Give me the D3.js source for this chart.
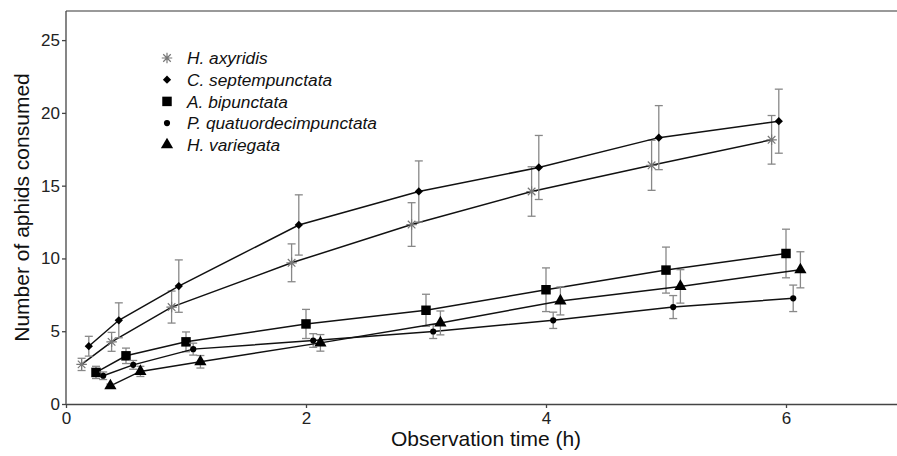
<!DOCTYPE html>
<html>
<head>
<meta charset="utf-8">
<script src="https://cdn.jsdelivr.net/npm/d3@7"></script>
<style>
  body { margin: 0; background: #fff; }
  svg { display: block; font-family: "Liberation Sans", Arial, sans-serif; }
  .axis text { font-size: 17px; fill: #222; }
  .axis path, .axis line { stroke: #444; stroke-width: 1.3; }
</style>
</head>
<body>
<div id="chart"></div>
<script>
// observation times (h)
var times = [0.25, 0.5, 1, 2, 3, 4, 5, 6];

var species = ["H. axyridis", "C. septempunctata", "A. bipunctata", "P. quatuordecimpunctata", "H. variegata"];

// mean aphids consumed
var axyridisMean = [2.72, 4.27, 6.66, 9.7, 12.33, 14.6, 16.4, 18.15];
var septMean = [3.97, 5.75, 8.1, 12.3, 14.6, 16.25, 18.3, 19.43];
var bipMean = [2.17, 3.31, 4.27, 5.5, 6.44, 7.85, 9.2, 10.34];
var quatMean = [1.94, 2.69, 3.77, 4.36, 4.98, 5.75, 6.66, 7.26];
var variegMean = [1.25, 2.24, 2.9, 4.2, 5.57, 7.08, 8.08, 9.22];

// standard errors
var axyridisSE = [0.42, 0.65, 1.1, 1.3, 1.5, 1.7, 1.72, 1.67];
var septSE = [0.68, 1.2, 1.8, 2.07, 2.1, 2.2, 2.2, 2.2];
var bipSE = [0.42, 0.53, 0.68, 1.0, 1.1, 1.5, 1.58, 1.67];
var quatSE = [0.26, 0.3, 0.41, 0.47, 0.48, 0.56, 0.79, 0.91];
var variegSE = [0.12, 0.35, 0.43, 0.57, 0.82, 0.96, 1.15, 1.24];

var xTicks = [0, 2, 4, 6];
var yTicks = [0, 5, 10, 15, 20, 25];

// small horizontal dodge so the error bars don't overlap
var dodge = [-0.12, -0.06, 0, 0.06, 0.12];

var means = [axyridisMean, septMean, bipMean, quatMean, variegMean];
var ses = [axyridisSE, septSE, bipSE, quatSE, variegSE];

// asterisk made of + and x (like R pch 8)
var star = {
    draw: function (ctx, size) {
        var r = Math.sqrt(size) / 2, d = r * 0.72;
        ctx.moveTo(-r, 0); ctx.lineTo(r, 0);
        ctx.moveTo(0, -r); ctx.lineTo(0, r);
        ctx.moveTo(-d, -d); ctx.lineTo(d, d);
        ctx.moveTo(-d, d); ctx.lineTo(d, -d);
    }
};
// square turned 45 degrees (R pch 18)
var diamond = {
    draw: function (ctx, size) {
        var r = Math.sqrt(size / 2);
        ctx.moveTo(0, -r); ctx.lineTo(r, 0); ctx.lineTo(0, r); ctx.lineTo(-r, 0);
        ctx.closePath();
    }
};
var shapes = [
    { type: star, size: 110, fill: "none", stroke: "#777" },
    { type: diamond, size: 34, fill: "#000", stroke: "none" },
    { type: d3.symbolSquare, size: 90, fill: "#000", stroke: "none" },
    { type: d3.symbolCircle, size: 30, fill: "#000", stroke: "none" },
    { type: d3.symbolTriangle, size: 65, fill: "#000", stroke: "none" }
];

var width = 897, height = 456;
var svg = d3.select("#chart").append("svg")
    .attr("width", width)
    .attr("height", height);

var x = d3.scaleLinear().domain([0, 7]).range([66, 906]);
var y = d3.scaleLinear().domain([0, 27]).range([404, 11]);

// top frame line
svg.append("line")
    .attr("x1", x(0)).attr("x2", width)
    .attr("y1", y(27)).attr("y2", y(27))
    .attr("stroke", "#777").attr("stroke-width", 1.5);

var xAxis = svg.append("g")
    .attr("class", "axis")
    .attr("transform", "translate(0," + y(0) + ")")
    .call(d3.axisBottom(x).tickValues(xTicks).tickSize(4).tickSizeOuter(0).tickFormat(d3.format("d")));
xAxis.selectAll("text").attr("y", 8).attr("dy", "0.71em");

var yAxis = svg.append("g")
    .attr("class", "axis")
    .attr("transform", "translate(" + x(0) + ",0)")
    .call(d3.axisLeft(y).tickValues(yTicks).tickSize(4).tickSizeOuter(0));
yAxis.select(".domain").attr("d", "M0," + y(0) + "V" + y(27));
yAxis.selectAll("text").attr("x", -6);

svg.append("text")
    .attr("x", x(3.5)).attr("y", 446)
    .attr("text-anchor", "middle")
    .style("font-size", "21px").style("fill", "#111")
    .text("Observation time (h)");

svg.append("text")
    .attr("transform", "translate(29," + (y(0) + y(27)) / 2 + ") rotate(-90)")
    .attr("text-anchor", "middle")
    .style("font-size", "21px").style("fill", "#111")
    .text("Number of aphids consumed");

var line = d3.line()
    .x(function (d) { return x(d.t); })
    .y(function (d) { return y(d.m); });

species.forEach(function (name, i) {
    var pts = times.map(function (t, j) {
        return { t: t + dodge[i], m: means[i][j], se: ses[i][j] };
    });
    var g = svg.append("g");

    g.append("path")
        .datum(pts)
        .attr("fill", "none")
        .attr("stroke", "#111")
        .attr("stroke-width", 1.5)
        .attr("d", line);

    var eb = g.selectAll(".eb").data(pts).enter().append("g")
        .attr("stroke", "#888").attr("stroke-width", 1.3);
    eb.append("line")
        .attr("x1", function (d) { return x(d.t); })
        .attr("x2", function (d) { return x(d.t); })
        .attr("y1", function (d) { return y(d.m + d.se); })
        .attr("y2", function (d) { return y(d.m - d.se); });
    eb.append("line")
        .attr("x1", function (d) { return x(d.t) - 4; })
        .attr("x2", function (d) { return x(d.t) + 4; })
        .attr("y1", function (d) { return y(d.m + d.se); })
        .attr("y2", function (d) { return y(d.m + d.se); });
    eb.append("line")
        .attr("x1", function (d) { return x(d.t) - 4; })
        .attr("x2", function (d) { return x(d.t) + 4; })
        .attr("y1", function (d) { return y(d.m - d.se); })
        .attr("y2", function (d) { return y(d.m - d.se); });

    var s = shapes[i];
    g.selectAll(".pt").data(pts).enter().append("path")
        .attr("transform", function (d) { return "translate(" + x(d.t) + "," + y(d.m) + ")"; })
        .attr("d", d3.symbol().type(s.type).size(s.size))
        .attr("fill", s.fill)
        .attr("stroke", s.stroke)
        .attr("stroke-width", 1.2);
});

// legend
var legend = svg.append("g").attr("transform", "translate(167,58)");
species.forEach(function (name, i) {
    var s = shapes[i];
    var row = legend.append("g").attr("transform", "translate(0," + i * 21.7 + ")");
    row.append("path")
        .attr("d", d3.symbol().type(s.type).size(s.size))
        .attr("fill", s.fill)
        .attr("stroke", s.stroke)
        .attr("stroke-width", 1.2);
    row.append("text")
        .attr("x", 20).attr("dy", "0.36em")
        .style("font-size", "17.3px").style("font-style", "italic").style("fill", "#111")
        .text(name);
});
</script>
</body>
</html>
